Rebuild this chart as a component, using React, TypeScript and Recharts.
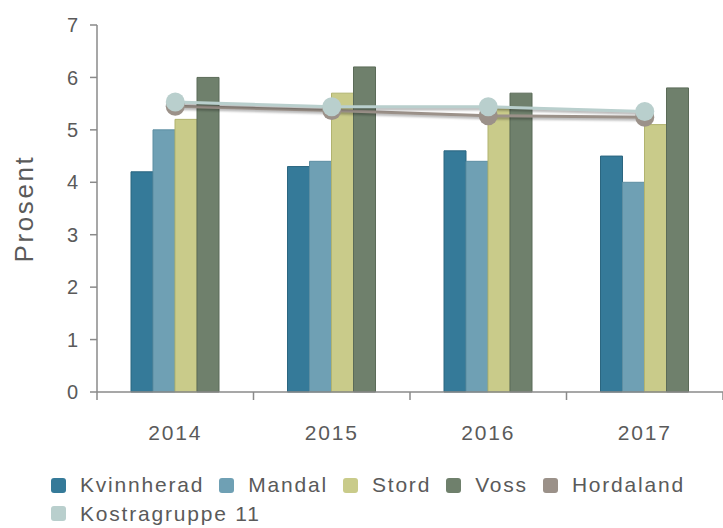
import React from 'react';
import { ComposedChart, Bar, Line, XAxis, YAxis, Legend } from 'recharts';

const years = ['2014', '2015', '2016', '2017'];
const kvinnherad = [4.2, 4.3, 4.6, 4.5];
const mandal = [5.0, 4.4, 4.4, 4.0];
const stord = [5.2, 5.7, 5.4, 5.1];
const voss = [6.0, 6.2, 5.7, 5.8];
const hordaland = [5.45, 5.37, 5.27, 5.24];
const kostra = [5.53, 5.44, 5.44, 5.35];
const yTicks = [0, 1, 2, 3, 4, 5, 6, 7];

const data = years.map((y, i) => ({
  year: y,
  Kvinnherad: kvinnherad[i],
  Mandal: mandal[i],
  Stord: stord[i],
  Voss: voss[i],
  Hordaland: hordaland[i],
  'Kostragruppe 11': kostra[i],
}));

const FONT = '"Liberation Sans", Arial, sans-serif';
const TEXT = '#5a5a5a';
const AXIS = '#8a8a8a';

const legendItems = [
  { name: 'Kvinnherad', color: '#357a99' },
  { name: 'Mandal', color: '#6fa0b4' },
  { name: 'Stord', color: '#c9cb8a' },
  { name: 'Voss', color: '#6f806c' },
  { name: 'Hordaland', color: '#9b9189' },
  { name: 'Kostragruppe 11', color: '#b9cfcd' },
];

const XTick = (props: any) => {
  const { x, y, payload } = props;
  const off = payload.offset ?? 0;
  const isLast = payload.value === years[years.length - 1];
  return (
    <g>
      <line x1={x - off} x2={x - off} y1={y} y2={y + 8} stroke={AXIS} strokeWidth={1.5} />
      {isLast && <line x1={x + off} x2={x + off} y1={y} y2={y + 8} stroke={AXIS} strokeWidth={1.5} />}
      <text x={x} y={y + 33} dy="0.71em" textAnchor="middle" fill={TEXT} fontSize={21} fontFamily={FONT} letterSpacing={1.8}>
        {payload.value}
      </text>
    </g>
  );
};

const YLabel = (props: any) => {
  const vb = props.viewBox || {};
  const cx = (vb.x ?? 0) + 24;
  const cy = (vb.y ?? 0) + (vb.height ?? 0) / 2;
  return (
    <text
      x={cx}
      y={cy}
      transform={`rotate(-90, ${cx}, ${cy})`}
      textAnchor="middle"
      dominantBaseline="central"
      fill={TEXT}
      fontSize={26}
      fontFamily={FONT}
      letterSpacing={2.6}
    >
      Prosent
    </text>
  );
};

const LegendContent = () => (
  <div
    style={{
      display: 'flex',
      flexWrap: 'wrap',
      width: 700,
      paddingLeft: 51,
      paddingTop: 7,
      boxSizing: 'border-box',
      height: 64,
      fontFamily: FONT,
      fontSize: 21,
      color: TEXT,
      letterSpacing: 1.8,
    }}
  >
    {legendItems.map((it) => (
      <div key={it.name} style={{ display: 'flex', alignItems: 'center', height: 28, marginRight: 15 }}>
        <span
          style={{
            display: 'inline-block',
            width: 15,
            height: 15,
            borderRadius: 3,
            background: it.color,
            marginRight: 14,
          }}
        />
        <span style={{ lineHeight: '28px', whiteSpace: 'nowrap' }}>{it.name}</span>
      </div>
    ))}
  </div>
);

export default function App() {
  return (
    <div style={{ position: 'absolute', left: 0, top: 0, width: 723, height: 528, background: '#fff' }}>
      <style>{`.recharts-line { filter: drop-shadow(1px 2px 1.2px rgba(0,0,0,0.3)); }`}</style>
      <ComposedChart
        width={723}
        height={528}
        data={data}
        margin={{ top: 25, right: 0, left: 0, bottom: 0 }}
        barGap={0}
        barSize={22}
      >
        <XAxis
          dataKey="year"
          height={72}
          tickLine={false}
          tickSize={0}
          tickMargin={0}
          axisLine={{ stroke: AXIS, strokeWidth: 1.5 }}
          tick={<XTick />}
          interval={0}
        />
        <YAxis
          width={97}
          domain={[0, 7]}
          ticks={yTicks}
          interval={0}
          tickSize={7}
          tickMargin={12}
          axisLine={{ stroke: AXIS, strokeWidth: 1.5 }}
          tickLine={{ stroke: AXIS, strokeWidth: 1.5 }}
          tick={{ fill: TEXT, fontSize: 20, fontFamily: FONT }}
          label={<YLabel />}
        />
        <Legend verticalAlign="bottom" align="left" height={64} content={<LegendContent />} wrapperStyle={{ left: 0, bottom: 0 }} />
        <Bar dataKey="Kvinnherad" fill="#357a99" stroke="#2b6680" strokeWidth={1} isAnimationActive={false} />
        <Bar dataKey="Mandal" fill="#6fa0b4" stroke="#5d8ea2" strokeWidth={1} isAnimationActive={false} />
        <Bar dataKey="Stord" fill="#c9cb8a" stroke="#b1b36f" strokeWidth={1} isAnimationActive={false} />
        <Bar dataKey="Voss" fill="#6f806c" stroke="#5b6b58" strokeWidth={1} isAnimationActive={false} />
        <Line
          dataKey="Hordaland"
          type="linear"
          stroke="#9b9189"
          strokeWidth={3}
          dot={{ r: 9.5, fill: '#9b9189', stroke: 'none' }}
          activeDot={false}
          isAnimationActive={false}
        />
        <Line
          dataKey="Kostragruppe 11"
          type="linear"
          stroke="#b9cfcd"
          strokeWidth={3}
          dot={{ r: 9.5, fill: '#b9cfcd', stroke: 'none' }}
          activeDot={false}
          isAnimationActive={false}
        />
      </ComposedChart>
    </div>
  );
}
